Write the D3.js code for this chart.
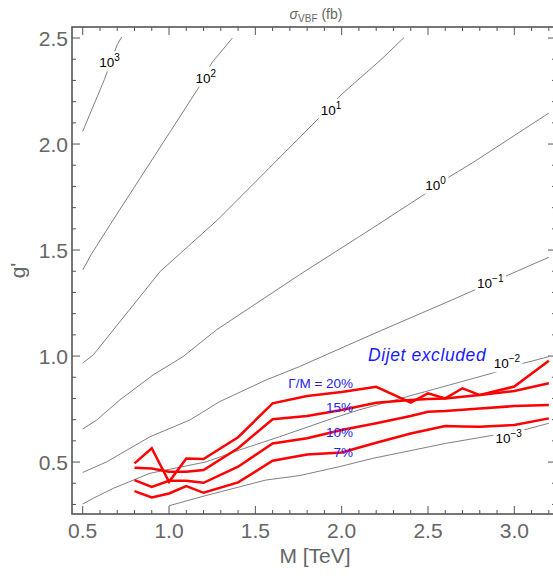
<!DOCTYPE html>
<html>
<head>
<meta charset="utf-8">
<script src="https://cdnjs.cloudflare.com/ajax/libs/d3/7.8.5/d3.min.js"></script>
<style>
  body { margin: 0; background: #fff; }
  svg text { font-family: "Liberation Sans", Arial, sans-serif; }
</style>
</head>
<body>
<div id="chart"></div>
<script>

// contour lines of sigma_VBF (fb), points are [M, g']
var contour3  = [[0.5, 2.06], [0.625, 2.303], [0.70, 2.469], [0.726, 2.505]];
var contour2  = [[0.5, 1.406], [0.55, 1.48], [0.677, 1.643], [0.89, 1.911], [1.17, 2.264], [1.247, 2.382], [1.367, 2.5]];
var contour1  = [[0.5, 0.967], [0.561, 1.005], [0.677, 1.123], [0.95, 1.40], [1.282, 1.643], [1.576, 1.883], [1.87, 2.124], [2.003, 2.237], [2.228, 2.398], [2.361, 2.502]];
var contour0  = [[0.5, 0.656], [0.581, 0.698], [0.715, 0.793], [0.908, 0.911], [1.081, 0.997], [1.274, 1.123], [1.755, 1.383], [2.178, 1.603], [2.476, 1.761], [2.621, 1.844], [2.755, 1.91], [3.2, 2.146]];
var contourM1 = [[0.5, 0.451], [0.639, 0.501], [0.889, 0.619], [1.12, 0.698], [1.293, 0.785], [1.562, 0.887], [1.755, 0.95], [2.082, 1.068], [2.236, 1.123], [2.64, 1.265], [2.968, 1.383], [3.2, 1.466]];
var contourM2 = [[0.5, 0.302], [0.561, 0.329], [0.677, 0.376], [0.889, 0.447], [1.216, 0.501], [1.408, 0.557], [1.639, 0.619], [1.947, 0.706], [2.101, 0.746], [2.871, 0.919], [3.054, 0.966], [3.2, 0.997]];
var contourM3 = [[1.0, 0.294], [1.204, 0.34], [1.56, 0.415], [1.755, 0.436], [1.986, 0.478], [2.178, 0.517], [2.602, 0.588], [3.054, 0.651], [3.2, 0.683]];

var contourLines = [contour3, contour2, contour1, contour0, contourM1, contourM2, contourM3];
var contourExponents = ["3", "2", "1", "0", "\u22121", "\u22122", "\u22123"];
var contourLabelM = [0.655, 1.213, 1.938, 2.544, 2.861, 2.957, 2.967];
var contourLabelG = [2.385, 2.313, 2.16, 1.808, 1.344, 0.966, 0.612];

// dijet exclusion for different widths
var massPoints = [0.8, 0.9, 1.0, 1.1, 1.2, 1.4, 1.6, 1.8, 2.0, 2.2, 2.4, 2.5, 2.6, 2.7, 2.8, 3.0, 3.2];
var width20 = [0.494, 0.565, 0.407, 0.517, 0.514, 0.617, 0.777, 0.812, 0.83, 0.855, 0.78, 0.824, 0.80, 0.848, 0.816, 0.856, 0.978];
var width15 = [0.473, 0.47, 0.454, 0.454, 0.462, 0.565, 0.702, 0.717, 0.746, 0.78, 0.793, 0.797, 0.80, 0.808, 0.816, 0.835, 0.872];
var width10 = [0.415, 0.383, 0.412, 0.412, 0.402, 0.478, 0.588, 0.612, 0.651, 0.683, 0.717, 0.737, 0.741, 0.747, 0.753, 0.764, 0.769];
var width7  = [0.363, 0.333, 0.352, 0.387, 0.355, 0.404, 0.506, 0.536, 0.545, 0.591, 0.635, 0.652, 0.67, 0.668, 0.667, 0.675, 0.706];

var widthSeries = [width20, width15, width10, width7];
var widthLabels = ["\u0393/M = 20%", "15%", "10%", "7%"];
var widthLabelM = [2.066, 2.066, 2.066, 2.066];
var widthLabelG = [0.848, 0.734, 0.616, 0.526];

var xMajor = [0.5, 1.0, 1.5, 2.0, 2.5, 3.0];
var yMajor = [0.5, 1.0, 1.5, 2.0, 2.5];

var svgWidth = 553, svgHeight = 576;
// right edge of the frame falls just outside the picture, as in the original
var plotLeft = 72, plotRight = 556, plotTop = 27, plotBottom = 514;

var svg = d3.select("#chart").append("svg")
  .attr("width", svgWidth)
  .attr("height", svgHeight);

var xScale = d3.scaleLinear().domain([0.438, 3.2415]).range([plotLeft, plotRight]);
var yScale = d3.scaleLinear().domain([0.255, 2.552]).range([plotBottom, plotTop]);

svg.append("clipPath").attr("id", "clip")
  .append("rect")
  .attr("x", plotLeft).attr("y", plotTop)
  .attr("width", plotRight - plotLeft).attr("height", plotBottom - plotTop);

var plot = svg.append("g").attr("clip-path", "url(#clip)");

var line = d3.line()
  .x(function(d) { return xScale(d[0]); })
  .y(function(d) { return yScale(d[1]); });

// gray contours
plot.selectAll(".contour")
  .data(contourLines)
  .enter().append("path")
  .attr("class", "contour")
  .attr("fill", "none")
  .attr("stroke", "#808080")
  .attr("stroke-width", 1)
  .attr("d", line);

// contour labels, white box cuts the line like Mathematica
var labels = plot.selectAll(".clabel")
  .data(contourExponents)
  .enter().append("g")
  .attr("class", "clabel");

labels.each(function(exp, i) {
  var g = d3.select(this);
  var bg = g.append("rect").attr("fill", "#fff");
  var t = g.append("text")
    .attr("x", xScale(contourLabelM[i]))
    .attr("y", yScale(contourLabelG[i]) + 5)
    .attr("text-anchor", "middle")
    .attr("font-size", 13.5)
    .attr("fill", "#000");
  t.append("tspan").text("10");
  t.append("tspan").attr("font-size", 10).attr("dy", -6).text(exp);
  var bb = t.node().getBBox();
  bg.attr("x", bb.x - 2).attr("y", bb.y - 1)
    .attr("width", bb.width + 4).attr("height", bb.height + 2);
});

// red exclusion lines
plot.selectAll(".excl")
  .data(widthSeries)
  .enter().append("path")
  .attr("class", "excl")
  .attr("fill", "none")
  .attr("stroke", "#ff0000")
  .attr("stroke-width", 2.5)
  .attr("stroke-linejoin", "miter")
  .attr("d", function(vals) {
    return line(vals.map(function(v, j) { return [massPoints[j], v]; }));
  });

svg.selectAll(".wlabel")
  .data(widthLabels)
  .enter().append("text")
  .attr("class", "wlabel")
  .attr("x", function(d, i) { return xScale(widthLabelM[i]); })
  .attr("y", function(d, i) { return yScale(widthLabelG[i]); })
  .attr("text-anchor", "end")
  .attr("font-size", 13.5)
  .attr("fill", "#2222ff")
  .text(function(d) { return d; });

svg.append("text")
  .attr("x", xScale(2.495))
  .attr("y", yScale(1.005) + 6)
  .attr("text-anchor", "middle")
  .attr("font-size", 17.5)
  .attr("font-style", "italic")
  .attr("letter-spacing", 0.6)
  .attr("fill", "#1a1aff")
  .text("Dijet excluded");

// frame and ticks
var frameColor = "#555";
svg.append("rect")
  .attr("x", plotLeft).attr("y", plotTop)
  .attr("width", plotRight - plotLeft).attr("height", plotBottom - plotTop)
  .attr("fill", "none")
  .attr("stroke", frameColor)
  .attr("stroke-width", 1.6);

var xTicks = d3.range(5, 33).map(function(d) { return d / 10; });
var yTicks = d3.range(3, 26).map(function(d) { return d / 10; });
function isMajor(v) { return Math.abs(v * 2 - Math.round(v * 2)) < 1e-6; }

var ticks = svg.append("g").attr("stroke", frameColor).attr("stroke-width", 1);
xTicks.forEach(function(v) {
  var len = isMajor(v) ? 8 : 4;
  ticks.append("line").attr("x1", xScale(v)).attr("x2", xScale(v))
    .attr("y1", plotBottom).attr("y2", plotBottom - len);
  ticks.append("line").attr("x1", xScale(v)).attr("x2", xScale(v))
    .attr("y1", plotTop).attr("y2", plotTop + len);
});
yTicks.forEach(function(v) {
  var len = isMajor(v) ? 8 : 4;
  ticks.append("line").attr("y1", yScale(v)).attr("y2", yScale(v))
    .attr("x1", plotLeft).attr("x2", plotLeft + len);
  ticks.append("line").attr("y1", yScale(v)).attr("y2", yScale(v))
    .attr("x1", plotRight).attr("x2", plotRight - len);
});

svg.selectAll(".xlab")
  .data(xMajor)
  .enter().append("text")
  .attr("x", function(d) { return xScale(d); })
  .attr("y", plotBottom + 24)
  .attr("text-anchor", "middle")
  .attr("font-size", 21)
  .attr("fill", "#666")
  .text(function(d) { return d3.format(".1f")(d); });

svg.selectAll(".ylab")
  .data(yMajor)
  .enter().append("text")
  .attr("x", plotLeft - 4)
  .attr("y", function(d) { return yScale(d) + 7.5; })
  .attr("text-anchor", "end")
  .attr("font-size", 21)
  .attr("fill", "#666")
  .text(function(d) { return d3.format(".1f")(d); });

svg.append("text")
  .attr("x", 315)
  .attr("y", 563)
  .attr("text-anchor", "middle")
  .attr("font-size", 21)
  .attr("fill", "#666")
  .text("M [TeV]");

svg.append("text")
  .attr("transform", "translate(25," + ((plotTop + plotBottom) / 2) + ") rotate(-90)")
  .attr("text-anchor", "middle")
  .attr("font-size", 21)
  .attr("fill", "#666")
  .text("g'");

var title = svg.append("text")
  .attr("x", 316)
  .attr("y", 19)
  .attr("text-anchor", "middle")
  .attr("font-size", 14)
  .attr("fill", "#666");
title.append("tspan").attr("font-style", "italic").text("\u03c3");
title.append("tspan").attr("font-size", 10).attr("dy", 3).text("VBF");
title.append("tspan").attr("dy", -3).text(" (fb)");

</script>
</body>
</html>
